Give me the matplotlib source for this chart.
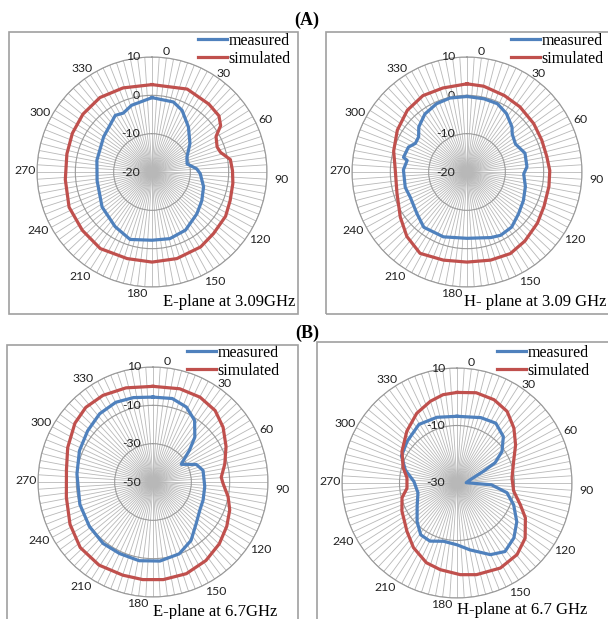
import numpy as np
import matplotlib
matplotlib.use('Agg')
import matplotlib.pyplot as plt
from matplotlib.patches import Rectangle
import matplotlib.transforms as mtransforms

W, H = 608, 619

# angles in degrees (0 = top, clockwise), gain in dB
ae_meas_ang = [0, 17, 26, 39, 53, 67, 77, 86, 92, 106, 120, 133, 150, 165, 180, 198, 214, 235, 261, 282, 306, 327, 334, 343]
ae_meas_db = [-0.6, -0.9, -2.1, -4.9, -7.6, -10.1, -10.6, -8.3, -7.4, -6.0, -5.0, -4.0, -2.5, -2.0, -2.2, -1.5, -2.8, -4.1, -5.5, -5.3, -4.4, -2.4, -2.9, -1.8]
ae_sim_ang = [0, 23, 40, 50, 56, 61, 69, 74, 81, 89, 98, 110, 121, 135, 147, 164, 180, 196, 214, 230, 247, 265, 282, 296, 310, 325, 341]
ae_sim_db = [2.8, 3.5, 3.1, 2.8, 1.6, -0.9, -1.8, -1.4, 0.7, 1.0, 1.3, 1.7, 2.4, 2.7, 3.3, 3.5, 3.5, 3.5, 4.1, 3.7, 3.5, 2.7, 2.7, 3.1, 3.5, 3.7, 3.2]

ah_meas_ang = [0, 13, 24, 34, 45, 50, 60, 72, 85, 92, 104, 117, 129, 141, 152, 160, 180, 200, 218, 230, 246, 256, 272, 281, 283, 293, 299, 306, 313, 324, 336, 347]
ah_meas_db = [-0.3, -0.4, -0.5, -1.6, -3.4, -4.6, -5.4, -4.1, -4.3, -5.2, -4.3, -3.5, -2.7, -1.5, -1.3, -1.8, -2.7, -2.0, -1.7, -3.0, -3.8, -3.4, -3.4, -4.1, -3.0, -3.4, -4.6, -4.4, -2.8, -1.3, -0.5, -0.2]
ah_sim_ang = [0, 11, 26, 39, 54, 67, 79, 89, 100, 114, 126, 140, 152, 165, 180, 195, 210, 223, 236, 253, 271, 286, 301, 316, 330, 344]
ah_sim_db = [3.0, 2.8, 2.2, 1.9, 1.5, 1.2, 1.2, 1.6, 1.7, 2.0, 2.7, 3.5, 4.1, 3.8, 3.5, 3.8, 4.5, 3.0, 1.0, -0.9, -1.3, -0.1, 1.2, 2.4, 3.0, 2.8]

be_meas_ang = [0, 13, 24, 34, 43, 49, 56, 58, 68, 77, 95, 110, 121, 134, 147, 160, 175, 190, 205, 219, 235, 253, 276, 293, 308, 322, 335, 347]
be_meas_db = [-5.7, -5.3, -7.2, -11.2, -18.0, -24.8, -31.5, -32.6, -25.6, -23.2, -22.9, -22.2, -21.5, -18.7, -13.6, -10.1, -8.6, -8.3, -8.8, -8.7, -9.5, -10.1, -10.1, -8.3, -6.7, -4.8, -4.1, -4.8]
be_sim_ang = [0, 16, 29, 41, 52, 64, 76, 86, 91, 101, 110, 121, 133, 146, 160, 174, 186, 198, 213, 228, 243, 260, 278, 292, 307, 318, 330, 344]
be_sim_db = [-0.1, 0.6, 0.6, -0.6, -3.6, -7.6, -11.4, -14.3, -13.5, -10.1, -7.4, -5.1, -2.7, -0.6, 0.9, 1.2, 1.2, 1.1, 1.7, 1.1, -1.4, -4.1, -4.4, -2.0, 1.0, 2.4, 2.2, 1.1]

bh_meas_ang = [0, 20, 33, 45, 55, 62, 66, 76, 88, 93, 101, 111, 123, 134, 145, 155, 169, 180, 193, 205, 215, 226, 240, 256, 272, 284, 296, 310, 327, 343]
bh_meas_db = [-6.8, -5.8, -5.2, -7.2, -10.9, -15.0, -19.9, -25.2, -26.8, -18.0, -12.3, -8.9, -5.2, -2.5, -0.9, -2.5, -6.3, -8.5, -9.2, -7.7, -8.0, -10.7, -14.0, -16.0, -15.0, -11.5, -8.5, -7.4, -5.7, -6.1]
bh_sim_ang = [0, 12, 24, 35, 46, 57, 69, 85, 98, 109, 117, 129, 140, 153, 168, 178, 191, 201, 214, 226, 243, 255, 264, 276, 286, 300, 316, 330, 342, 351]
bh_sim_db = [1.5, 2.1, 1.7, 0.4, -2.5, -5.7, -8.9, -10.8, -10.1, -6.7, -3.3, 0.5, 2.5, 3.2, 2.6, 1.9, 0.7, -0.3, -2.9, -5.8, -8.5, -10.2, -12.5, -12.5, -10.5, -7.9, -4.9, -2.0, -0.1, 1.1]

angle_labels = [str(a) for a in range(0, 360, 30)]
# where Excel put each category label: angle nudge (deg) and distance from centre (px)
lab_nudge = [6.7, 6, 5, 3.5, 2, 0, 7, 4.7, 3, 0.5, -2, -4]
lab_rpx = [121, 122, 125, 130, 127, 126, 122, 127, 128, 127, 127, 125]

BLUE = '#4f81bd'
RED = '#c0504d'
SERIF = 'Liberation Serif'
SANS = 'Lato'
R = 115  # plot radius in px

fig = plt.figure(figsize=(W / 100, H / 100), dpi=100)


def px_box(x0, y0, x1, y1):
    fig.patches.append(Rectangle((x0 / W, 1 - y1 / H), (x1 - x0) / W, (y1 - y0) / H,
                                 transform=fig.transFigure, fill=False,
                                 edgecolor='#a0a0a0', lw=1.2))


def radar(cx, cy, rmin, rmax, rings, rlabels, meas, sim, leg_xy, caption, cap_xy, cap_ha):
    ax = fig.add_axes([(cx - R) / W, 1 - (cy + R) / H, 2 * R / W, 2 * R / H], projection='polar')
    ax.set_facecolor('none')
    ax.set_theta_zero_location('N')
    ax.set_theta_direction(-1)
    ax.set_ylim(rmin, rmax)

    # spokes every 3.6 deg
    ax.set_xticks(np.deg2rad(np.arange(0, 360, 3.6)))
    ax.set_xticklabels([])
    ax.tick_params(axis='x', length=0)
    ax.xaxis.grid(True, color='#b8b8b8', lw=0.6)

    ax.set_yticks(rings)
    ax.set_yticklabels([])
    ax.yaxis.grid(True, color='#9a9a9a', lw=0.8)
    ax.spines['polar'].set_color('#9a9a9a')
    ax.spines['polar'].set_linewidth(0.8)

    for lab, dn, rp in zip(angle_labels, lab_nudge, lab_rpx):
        ax.text(np.deg2rad(int(lab) + dn), rmin + (rmax - rmin) * rp / R, lab,
                ha='center', va='center', fontsize=8.8, family=SANS,
                color='#222222', clip_on=False)

    off = mtransforms.offset_copy(ax.transData, fig=fig, x=-12, y=0, units='dots')
    for v in rlabels:
        ax.text(0, v, str(v), transform=off, ha='right', va='center',
                fontsize=8.8, family=SANS, color='#222222')

    for (ang, db), col, name in ((meas, BLUE, 'measured'), (sim, RED, 'simulated')):
        t = np.deg2rad(ang + ang[:1])
        ax.plot(t, db + db[:1], color=col, lw=2.3, label=name, zorder=5,
                solid_joinstyle='round')

    ax.legend(loc='upper left', bbox_to_anchor=(leg_xy[0] / W, 1 - leg_xy[1] / H),
              bbox_transform=fig.transFigure, frameon=False, borderpad=0,
              borderaxespad=0, handlelength=1.8, handletextpad=0.12,
              labelspacing=0.1, prop={'family': SERIF, 'size': 11.5})
    fig.text(cap_xy[0] / W, 1 - cap_xy[1] / H, caption, ha=cap_ha, va='center',
             family=SERIF, fontsize=12)
    return ax


px_box(9, 32, 298, 314)
px_box(326, 32, 640, 314)
px_box(7, 345, 298, 640)
px_box(317, 342, 640, 640)

fig.text(307 / W, 1 - 20 / H, '(A)', ha='center', va='center', family=SERIF,
         fontsize=13, fontweight='bold')
fig.text(307 / W, 1 - 333 / H, '(B)', ha='center', va='center', family=SERIF,
         fontsize=13, fontweight='bold')

radar(152, 172, -20, 10, [-10, 0, 10], [-20, -10, 0, 10],
      (ae_meas_ang, ae_meas_db), (ae_sim_ang, ae_sim_db),
      (198, 33), 'E-plane at 3.09GHz', (295, 302), 'right')
radar(467, 172, -20, 10, [-10, 0, 10], [-20, -10, 0, 10],
      (ah_meas_ang, ah_meas_db), (ah_sim_ang, ah_sim_db),
      (511, 33), 'H- plane at 3.09 GHz', (464, 302), 'left')
radar(153, 482, -50, 10, [-30, -10, 10], [-50, -30, -10, 10],
      (be_meas_ang, be_meas_db), (be_sim_ang, be_sim_db),
      (187, 345), 'E-plane at 6.7GHz', (277, 612), 'right')
radar(457, 483, -30, 10, [-10, 10], [-30, -10, 10],
      (bh_meas_ang, bh_meas_db), (bh_sim_ang, bh_sim_db),
      (497, 345), 'H-plane at 6.7 GHz', (457, 610), 'left')

fig.savefig('out.png', dpi=100)
